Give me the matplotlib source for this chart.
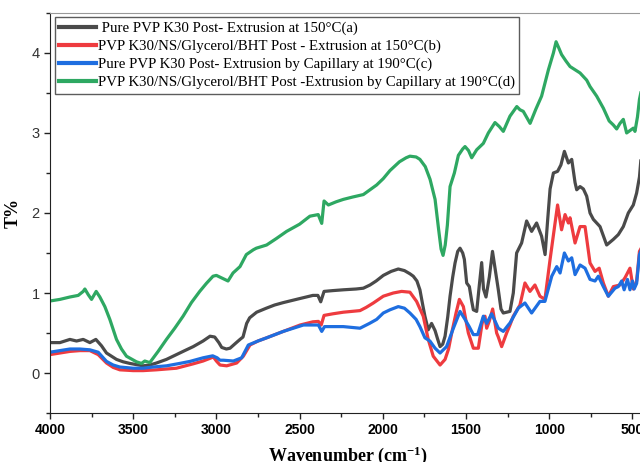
import matplotlib
matplotlib.use("Agg")
import matplotlib.pyplot as plt
from matplotlib.ticker import MultipleLocator

# FTIR transmittance spectra, read per curve as (wavenumber, T%)
wn_a = [4000, 3940, 3880, 3840, 3800, 3760, 3724, 3690, 3660, 3600, 3560, 3520, 3440, 3400,
        3360, 3300, 3240, 3190, 3139, 3080, 3038, 3010, 2985, 2968, 2940, 2918, 2880, 2858,
        2840, 2818, 2800, 2758, 2700, 2650, 2598, 2500, 2420, 2390, 2373, 2353, 2300, 2237,
        2160, 2117, 2077, 2040, 1997, 1950, 1907, 1870, 1837, 1817, 1795, 1777, 1760, 1747,
        1727, 1707, 1686, 1670, 1656, 1640, 1626, 1610, 1596, 1580, 1566, 1550, 1536, 1520,
        1510, 1496, 1480, 1466, 1456, 1436, 1420, 1406, 1395, 1380, 1360, 1341, 1325, 1306,
        1290, 1276, 1236, 1216, 1196, 1166, 1136, 1106, 1076, 1046, 1025, 1010, 995, 975,
        950, 930, 909, 885, 865, 845, 835, 815, 795, 775, 755, 735, 695, 655, 615, 585, 555,
        525, 495, 475, 458, 450]
t_a = [0.38, 0.38, 0.42, 0.40, 0.42, 0.38, 0.42, 0.34, 0.25, 0.17, 0.14, 0.12, 0.09, 0.10,
       0.125, 0.17, 0.23, 0.28, 0.33, 0.40, 0.46, 0.45, 0.38, 0.32, 0.30, 0.31, 0.38, 0.42,
       0.45, 0.62, 0.69, 0.76, 0.81, 0.85, 0.88, 0.93, 0.97, 0.97, 0.89, 1.02, 1.03, 1.04,
       1.05, 1.06, 1.10, 1.15, 1.22, 1.27, 1.30, 1.28, 1.24, 1.21, 1.15, 1.04, 0.85, 0.71,
       0.54, 0.62, 0.53, 0.42, 0.33, 0.36, 0.46, 0.70, 0.96, 1.20, 1.375, 1.52, 1.56, 1.50,
       1.42, 1.125, 1.08, 0.90, 0.79, 0.77, 1.10, 1.38, 1.05, 0.95, 1.20, 1.52, 1.30, 1.04,
       0.80, 0.75, 0.77, 1.00, 1.50, 1.625, 1.90, 1.77, 1.875, 1.71, 1.48, 1.90, 2.30, 2.50,
       2.52, 2.60, 2.77, 2.625, 2.67, 2.38, 2.29, 2.33, 2.30, 2.21, 2.00, 1.92, 1.83, 1.60,
       1.67, 1.73, 1.83, 2.00, 2.10, 2.25, 2.45, 2.65]

wn_b = [4000, 3940, 3880, 3820, 3760, 3710, 3660, 3620, 3580, 3500, 3440, 3360, 3300, 3240,
        3139, 3080, 3018, 3000, 2978, 2938, 2878, 2838, 2798, 2750, 2698, 2598, 2497, 2420,
        2387, 2370, 2353, 2300, 2237, 2137, 2100, 2057, 1997, 1937, 1887, 1837, 1797, 1757,
        1727, 1697, 1656, 1626, 1605, 1586, 1560, 1540, 1516, 1500, 1486, 1456, 1426, 1405,
        1396, 1386, 1376, 1360, 1340, 1316, 1306, 1286, 1256, 1236, 1216, 1176, 1146, 1116,
        1086, 1056, 1026, 995, 965, 950, 926, 905, 885, 875, 845, 815, 785, 755, 725, 700,
        675, 645, 615, 575, 545, 515, 495, 475, 458, 450]
t_b = [0.23, 0.25, 0.27, 0.28, 0.28, 0.23, 0.125, 0.07, 0.04, 0.03, 0.03, 0.04, 0.05, 0.06,
       0.115, 0.15, 0.20, 0.15, 0.10, 0.09, 0.125, 0.21, 0.35, 0.40, 0.44, 0.52, 0.60, 0.64,
       0.645, 0.60, 0.72, 0.74, 0.76, 0.78, 0.82, 0.875, 0.96, 1.00, 1.02, 1.01, 0.895, 0.71,
       0.42, 0.21, 0.10, 0.17, 0.30, 0.50, 0.75, 0.92, 0.83, 0.65, 0.50, 0.31, 0.31, 0.60,
       0.69, 0.71, 0.56, 0.65, 0.80, 0.50, 0.45, 0.33, 0.50, 0.60, 0.71, 0.85, 1.125, 1.02,
       1.10, 0.96, 0.92, 1.42, 1.875, 2.10, 1.79, 1.98, 1.875, 1.94, 1.625, 1.83, 1.83, 1.375,
       1.27, 1.31, 1.125, 0.96, 1.08, 1.10, 1.19, 1.31, 1.05, 1.15, 1.52, 1.55]

wn_c = [4000, 3940, 3880, 3820, 3760, 3710, 3660, 3620, 3580, 3500, 3440, 3380, 3299, 3220,
        3159, 3080, 3022, 2995, 2978, 2958, 2898, 2848, 2808, 2750, 2698, 2598, 2477, 2387,
        2367, 2350, 2300, 2237, 2137, 2080, 2037, 1997, 1957, 1907, 1870, 1837, 1800, 1777,
        1747, 1717, 1686, 1656, 1617, 1576, 1536, 1506, 1481, 1456, 1430, 1396, 1376, 1346,
        1306, 1276, 1246, 1236, 1186, 1146, 1106, 1056, 1026, 985, 955, 935, 909, 885, 865,
        845, 815, 785, 755, 725, 705, 675, 645, 605, 585, 565, 550, 530, 515, 500, 490, 475,
        458, 450]
t_c = [0.26, 0.28, 0.30, 0.30, 0.29, 0.26, 0.145, 0.10, 0.075, 0.06, 0.06, 0.075, 0.09, 0.12,
       0.145, 0.19, 0.215, 0.19, 0.16, 0.16, 0.15, 0.19, 0.35, 0.40, 0.44, 0.52, 0.60, 0.60,
       0.52, 0.58, 0.58, 0.58, 0.56, 0.62, 0.67, 0.75, 0.79, 0.83, 0.81, 0.75, 0.67, 0.58,
       0.44, 0.40, 0.31, 0.25, 0.33, 0.56, 0.77, 0.67, 0.58, 0.48, 0.48, 0.71, 0.62, 0.74,
       0.56, 0.52, 0.60, 0.625, 0.81, 0.875, 0.75, 0.895, 0.895, 1.21, 1.33, 1.25, 1.50, 1.40,
       1.44, 1.23, 1.35, 1.31, 1.17, 1.15, 1.21, 1.08, 0.96, 1.06, 1.08, 1.15, 1.04, 1.17,
       1.04, 1.15, 1.05, 1.12, 1.48, 1.52]

wn_d = [4000, 3940, 3880, 3830, 3800, 3790, 3770, 3750, 3722, 3700, 3670, 3640, 3600, 3570,
        3540, 3480, 3450, 3430, 3400, 3350, 3300, 3250, 3200, 3150, 3100, 3060, 3020, 3000,
        2970, 2930, 2900, 2858, 2820, 2778, 2760, 2698, 2640, 2578, 2500, 2438, 2388, 2367,
        2353, 2327, 2280, 2237, 2180, 2117, 2077, 2037, 1997, 1957, 1900, 1860, 1837, 1800,
        1777, 1745, 1716, 1686, 1665, 1650, 1638, 1625, 1612, 1596, 1570, 1546, 1520, 1506,
        1485, 1466, 1436, 1396, 1366, 1326, 1300, 1276, 1236, 1195, 1176, 1156, 1115, 1080,
        1046, 1005, 975, 959, 940, 926, 900, 875, 845, 815, 775, 755, 715, 675, 640, 615, 595,
        575, 555, 535, 515, 495, 485, 470, 458, 450]
t_d = [0.90, 0.92, 0.95, 0.97, 1.02, 1.05, 0.98, 0.92, 1.02, 0.95, 0.83, 0.67, 0.42, 0.30,
       0.21, 0.14, 0.12, 0.15, 0.13, 0.27, 0.42, 0.56, 0.71, 0.88, 1.02, 1.12, 1.21, 1.22,
       1.19, 1.15, 1.25, 1.33, 1.48, 1.54, 1.56, 1.60, 1.68, 1.77, 1.86, 1.96, 1.98, 1.87,
       2.15, 2.10, 2.14, 2.17, 2.20, 2.23, 2.29, 2.35, 2.43, 2.53, 2.64, 2.69, 2.71, 2.70,
       2.67, 2.58, 2.42, 2.17, 1.80, 1.55, 1.47, 1.60, 1.85, 2.33, 2.50, 2.72, 2.80, 2.83,
       2.78, 2.69, 2.79, 2.87, 3.00, 3.13, 3.08, 3.02, 3.21, 3.33, 3.29, 3.27, 3.12, 3.30,
       3.46, 3.79, 4.00, 4.14, 4.05, 3.98, 3.90, 3.83, 3.79, 3.75, 3.66, 3.58, 3.46, 3.31,
       3.15, 3.10, 3.05, 3.12, 3.17, 3.00, 3.03, 3.06, 3.02, 3.20, 3.42, 3.50]

labels = [
    " Pure PVP K30 Post- Extrusion at 150\u00b0C(a)",
    "PVP K30/NS/Glycerol/BHT Post - Extrusion at 150\u00b0C(b)",
    "Pure PVP K30 Post- Extrusion by Capillary at 190\u00b0C(c)",
    "PVP K30/NS/Glycerol/BHT Post -Extrusion by Capillary at 190\u00b0C(d)",
]
colors = ["#4a4a4a", "#ee3b3f", "#1e6ee0", "#2ea862"]

plt.rcParams["mathtext.fontset"] = "custom"
plt.rcParams["mathtext.bf"] = "Liberation Serif:bold"
plt.rcParams["mathtext.rm"] = "Liberation Serif:bold"

fig = plt.figure(figsize=(6.4, 4.62), dpi=100)
ax = fig.add_axes([0.078, 0.106, 0.93, 0.866])

series = [(wn_a, t_a), (wn_b, t_b), (wn_c, t_c), (wn_d, t_d)]
for (wn, t), lab, col in zip(series, labels, colors):
    ax.plot(wn, t, color=col, lw=2.3, label=lab, solid_joinstyle="round")

ax.set_xlim(4000, 424)
ax.set_ylim(-0.5, 4.5)
ax.xaxis.set_major_locator(MultipleLocator(500))
ax.xaxis.set_minor_locator(MultipleLocator(250))
ax.yaxis.set_major_locator(MultipleLocator(1))
ax.yaxis.set_minor_locator(MultipleLocator(0.5))
ax.tick_params(which="both", direction="out", color="#222222", width=1)
ax.tick_params(which="major", length=4)
ax.tick_params(which="minor", length=3)
for lbl in ax.get_xticklabels():
    lbl.set_fontfamily("Liberation Sans")
    lbl.set_fontweight("bold")
    lbl.set_fontsize(10)
for lbl in ax.get_yticklabels():
    lbl.set_fontfamily("Liberation Sans")
    lbl.set_fontsize(10.5)
    lbl.set_color("#333333")

ax.spines["left"].set_color("#222222")
ax.spines["bottom"].set_color("#222222")
ax.spines["top"].set_color("#999999")
ax.spines["right"].set_visible(False)

ax.set_xlabel(r"Wavenumber (cm$\mathbf{^{-1}}$)", fontfamily="Liberation Serif",
              fontweight="bold", fontsize=13)
ax.set_ylabel("T%", fontfamily="Liberation Serif", fontweight="bold", fontsize=13)
ax.xaxis.set_label_coords(0.5, -0.078)
ax.yaxis.set_label_coords(-0.047, 0.5)

leg = ax.legend(loc="upper left", bbox_to_anchor=(0.008, 0.99), frameon=True,
                fancybox=False, handlelength=2.45, handletextpad=0.15,
                borderpad=0.3, labelspacing=0.3, borderaxespad=0.0,
                prop={"family": "Liberation Serif", "size": 10.7})
leg.get_frame().set_edgecolor("#333333")
leg.get_frame().set_linewidth(1.0)
for h in leg.get_lines():
    h.set_linewidth(3)

fig.savefig("out.png", dpi=100)
